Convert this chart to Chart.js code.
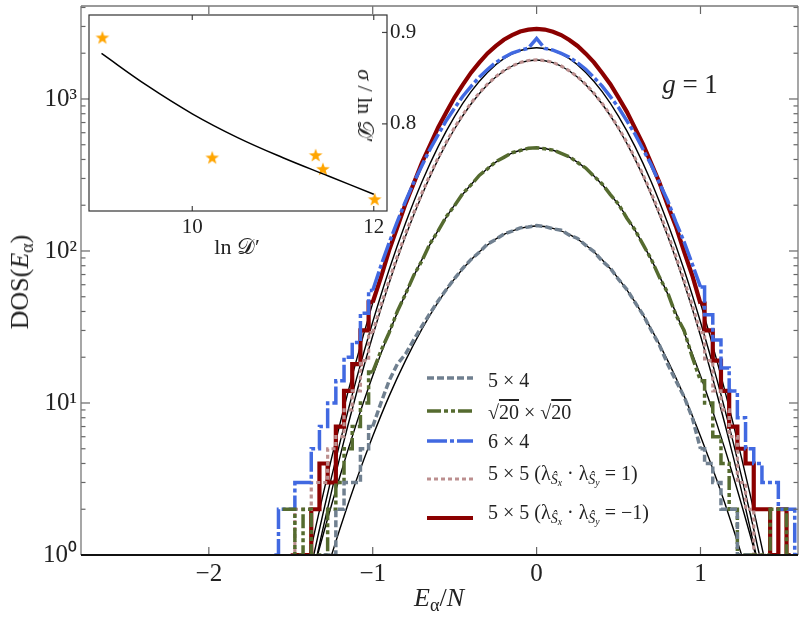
<!DOCTYPE html>
<html>
<head>
<meta charset="utf-8">
<script src="https://cdn.jsdelivr.net/npm/chart.js@4.4.1/dist/chart.umd.min.js"></script>
<style>
  body { margin:0; background:#fff; font-family:'Liberation Serif','Times New Roman',serif; color:#222; }
  #wrap { position:relative; width:806px; height:626px; overflow:hidden; }
  #main { position:absolute; left:0; top:0; }
  #inset { position:absolute; left:80px; top:6px; }
  .txt { position:absolute; white-space:nowrap; transform:translate(-50%,-50%); line-height:1; }
  .rot { transform:translate(-50%,-50%) rotate(-90deg); }
  .rotcw { transform:translate(-50%,-50%) rotate(90deg); }
  sub { font-size:70%; vertical-align:-0.28em; line-height:0; }
  .leg { position:absolute; left:427px; height:0; }
  .leg svg { position:absolute; left:0; top:-5px; }
  .leg .lt { position:absolute; left:61px; white-space:nowrap; font-size:20px; line-height:1; transform:translateY(-50%); }
  .ov { text-decoration:overline; }
</style>
</head>
<body>
<div id="wrap">
  <canvas id="main" width="806" height="626"></canvas>
  <canvas id="inset" width="340" height="255"></canvas>
  <div class="txt rot" style="left:20px;top:282px;font-size:26px;">DOS(<i>E</i><sub>α</sub>)</div>
  <div class="txt" style="left:439px;top:598px;font-size:26px;"><i>E</i><sub>α</sub>/<i>N</i></div>
  <div class="txt" style="left:690px;top:84px;font-size:27px;"><i>g</i> = 1</div>
  <div class="txt" style="left:237px;top:247px;font-size:22px;">ln 𝒟′</div>
  <div class="txt rotcw" style="left:365px;top:106px;font-size:22px;"><i>σ</i> / ln 𝒟′</div>
  <div id="legend"></div>
</div>
<script>
// bin centres of the DOS histograms (E_alpha / N)
const binE = [-1.6, -1.55, -1.5, -1.45, -1.4, -1.35, -1.3, -1.25, -1.2, -1.15, -1.1, -1.05, -1.0,
  -0.95, -0.9, -0.85, -0.8, -0.75, -0.7, -0.65, -0.6, -0.55, -0.5, -0.45, -0.4, -0.35, -0.3, -0.25,
  -0.2, -0.15, -0.1, -0.05, 0.0, 0.05, 0.1, 0.15, 0.2, 0.25, 0.3, 0.35, 0.4, 0.45, 0.5, 0.55, 0.6,
  0.65, 0.7, 0.75, 0.8, 0.85, 0.9, 0.95, 1.0, 1.05, 1.1, 1.15, 1.2, 1.25, 1.3, 1.35, 1.4, 1.45,
  1.5, 1.55, 1.6];

const dos5x4 = [null, null, null, null, null, null, 1, 1, 2, 3, 3, 5, 7,
  10, 14, 18, 21, 26, 32, 39, 47, 56, 66, 77, 88, 98, 111, 119,
  129, 135, 142, 144, 147, 145, 140, 137, 127, 121, 109, 99, 86, 77, 65, 56, 46,
  38, 30, 24, 18, 14, 11, 8, 5, 4, 3, 2, 2, 1, 1, null, null, null,
  null, null, null];

const dosSqrt20 = [null, 2, 2, 1, 2, 1, 1, 2, 3, 5, 7, 10, 16,
  22, 29, 40, 52, 69, 86, 112, 136, 169, 199, 239, 272, 314, 347, 386,
  413, 443, 458, 474, 478, 470, 461, 439, 417, 382, 351, 310, 276, 235, 203, 165, 138,
  110, 88, 67, 53, 38, 30, 20, 14, 10, 6, 4, 2, 1, 1, 1, 1, 2,
  2, 1, null];

const dos6x4 = [1, 2, 2, 3, 3, 5, 7, 10, 14, 20, 25, 39, 55,
  80, 113, 156, 212, 282, 364, 468, 584, 725, 872, 1043, 1210, 1393, 1562, 1735,
  1872, 2005, 2090, 2160, 2500, 2150, 2098, 1995, 1883, 1726, 1570, 1386, 1216, 1036, 878, 720, 589,
  465, 368, 279, 214, 155, 115, 82, 58, 38, 26, 17, 12, 8, 5, 4, 3, 3,
  2, 2, 1];

const dos5x5p = [null, null, 1, 2, 2, 3, 3, 5, 6, 9, 12, 19, 29,
  44, 64, 92, 130, 178, 240, 318, 412, 522, 650, 790, 940, 1095, 1252, 1400,
  1535, 1650, 1738, 1792, 1810, 1788, 1740, 1648, 1532, 1398, 1248, 1090, 935, 785, 645, 520, 410,
  316, 240, 178, 130, 92, 64, 44, 29, 19, 12, 9, 6, 3, 2, 1, 1, null,
  null, null, null];

const dos5x5m = [null, null, 1, 1, 1, 2, 4, 3, 7, 12, 18, 30, 46,
  67, 101, 143, 204, 278, 380, 498, 652, 820, 1026, 1243, 1490, 1734, 1995, 2226,
  2453, 2628, 2778, 2857, 2895, 2863, 2770, 2635, 2445, 2233, 1988, 1741, 1482, 1250, 1020, 826, 646,
  503, 376, 281, 200, 145, 99, 69, 45, 30, 19, 12, 7, 5, 4, 2, 2, 1,
  2, 1, null];

// Gaussian fits
const fitE = [-1.5, -1.4, -1.3, -1.2, -1.1, -1.0, -0.9, -0.8, -0.7, -0.6, -0.5, -0.4, -0.3, -0.2, -0.1,
  0.0, 0.1, 0.2, 0.3, 0.4, 0.5, 0.6, 0.7, 0.8, 0.9, 1.0, 1.1, 1.2, 1.3, 1.4, 1.5];
const fit5x4 = [0.11, 0.28, 0.67, 1.49, 3.10, 6.04, 11.1, 19.0, 30.6, 46.3, 65.8, 87.7, 109.6, 128.5, 141,
  146, 141, 128.5, 109.6, 87.7, 65.8, 46.3, 30.6, 19.0, 11.1, 6.04, 3.10, 1.49, 0.67, 0.28, 0.11];
const fitSqrt20 = [0.20, 0.55, 1.39, 3.30, 7.29, 15.1, 29.0, 52.2, 87.7, 137, 201, 274, 349, 415, 460,
  476, 460, 415, 349, 274, 201, 137, 87.7, 52.2, 29.0, 15.1, 7.29, 3.30, 1.39, 0.55, 0.20];
const fit6x4 = [0.19, 0.63, 1.94, 5.48, 14.3, 34.1, 75.2, 152, 284, 488, 769, 1117, 1496, 1841, 2084,
  2173, 2084, 1841, 1496, 1117, 769, 488, 284, 152, 75.2, 34.1, 14.3, 5.48, 1.94, 0.63, 0.19];
const fit5x5p = [0.15, 0.50, 1.55, 4.42, 11.5, 27.7, 61.4, 125, 233, 402, 637, 927, 1241, 1528, 1734,
  1807, 1734, 1528, 1241, 927, 637, 402, 233, 125, 61.4, 27.7, 11.5, 4.42, 1.55, 0.50, 0.15];
const fit5x5m = [0.25, 0.84, 2.58, 7.29, 19.0, 45.4, 100, 202, 378, 649, 1023, 1486, 1991, 2449, 2773,
  2891, 2773, 2449, 1991, 1486, 1023, 649, 378, 202, 100, 45.4, 19.0, 7.29, 2.58, 0.84, 0.25];

const xTicks = [-2, -1, 0, 1];
const yTicks = [1, 10, 100, 1000];
const yTickLabels = ['10⁰', '10¹', '10²', '10³'];

// inset: sigma / ln D' against ln D'
const lnD = [9.01, 10.22, 11.36, 11.44, 12.01];
const sigmaRatio = [0.8946, 0.7633, 0.7659, 0.7508, 0.7177];
const fitLnD = [9.0, 9.5, 10.0, 10.5, 11.0, 11.5, 12.0];
const fitSigma = [0.877, 0.842, 0.811, 0.785, 0.763, 0.743, 0.723];
const inXTicks = [10, 12];
const inYTicks = [0.8, 0.9];

const series = [
  { values: dos5x4,    color:'#708090', dash:[7,3],             width:3.5, label:'5 × 4' },
  { values: dosSqrt20, color:'#556B2F', dash:[14,3,4,3,4,3],    width:3.5, label:'√<span class="ov">20</span> × √<span class="ov">20</span>' },
  { values: dos6x4,    color:'#4169E1', dash:[20,3,4,3],        width:3.5, label:'6 × 4' },
  { values: dos5x5p,   color:'#BC8F8F', dash:[4,3],             width:3.2, label:'5 × 5 (λ<sub><i>Ŝ</i><sub><i>x</i></sub></sub> · λ<sub><i>Ŝ</i><sub><i>y</i></sub></sub> = 1)' },
  { values: dos5x5m,   color:'#8B0000', dash:[],                width:4.2, label:'5 × 5 (λ<sub><i>Ŝ</i><sub><i>x</i></sub></sub> · λ<sub><i>Ŝ</i><sub><i>y</i></sub></sub> = −1)' }
];
const fits = [fit5x4, fitSqrt20, fit6x4, fit5x5p, fit5x5m];

Chart.defaults.font.family = "'Liberation Serif','Times New Roman',serif";
Chart.defaults.color = '#222';

const toPts = (xs, ys) => xs.map((x, i) => ({ x, y: ys[i] }));

// the sparse tails are drawn as steps, the well-filled middle as a plain line
const pieces = [[0, 13, 'middle'], [12, 53, false], [52, 65, 'middle']];

// inward ticks and spines, like the matplotlib frame
const mainFrame = {
  id: 'mainFrame',
  afterDatasetsDraw(chart) {
    const { ctx, chartArea: a, scales: { x, y } } = chart;
    const line = (x1, y1, x2, y2) => { ctx.beginPath(); ctx.moveTo(x1, y1); ctx.lineTo(x2, y2); ctx.stroke(); };
    ctx.save();
    ctx.strokeStyle = '#666';
    ctx.lineWidth = 1.2;
    xTicks.forEach(v => {
      const px = x.getPixelForValue(v);
      line(px, a.bottom, px, a.bottom - 8);
      line(px, a.top, px, a.top + 8);
    });
    yTicks.forEach(d => {
      const py = y.getPixelForValue(d);
      line(a.left, py, a.left + 9, py);
      line(a.right, py, a.right - 9, py);
      for (let m = 2; m <= 9; m++) {
        if (d * m > y.max) break;
        const pm = y.getPixelForValue(d * m);
        line(a.left, pm, a.left + 4.5, pm);
        line(a.right, pm, a.right - 4.5, pm);
      }
    });
    ctx.strokeStyle = '#777';
    ctx.lineWidth = 1.3;
    line(a.left, a.top, a.left, a.bottom);
    line(a.left, a.top, a.right, a.top);
    line(a.right, a.top, a.right, a.bottom);
    ctx.strokeStyle = '#111';
    ctx.lineWidth = 1.8;
    line(a.left, a.bottom, a.right, a.bottom);
    ctx.restore();
  }
};

const noPad = s => { s.paddingTop = 0; s.paddingBottom = 0; s.paddingLeft = 0; s.paddingRight = 0; };

new Chart(document.getElementById('main'), {
  type: 'line',
  data: {
    datasets: [
      ...series.flatMap(s => pieces.map(([a, b, st]) => ({
        data: toPts(binE.slice(a, b), s.values.slice(a, b)),
        borderColor: s.color, borderWidth: s.width, borderDash: s.dash,
        stepped: st, tension: 0, pointRadius: 0, fill: false, spanGaps: false
      }))),
      ...fits.map(f => ({
        data: toPts(fitE, f),
        borderColor: '#000', borderWidth: 1.4, tension: 0.4,
        pointRadius: 0, fill: false
      }))
    ]
  },
  options: {
    responsive: false, animation: false,
    layout: { padding: { top: 6, right: 8, left: 0, bottom: 0 } },
    elements: { line: { capBezierPoints: false } },
    plugins: { legend: { display: false }, tooltip: { enabled: false } },
    scales: {
      x: {
        type: 'linear', min: -2.78, max: 1.595,
        grid: { display: false, drawTicks: false }, border: { display: false },
        afterBuildTicks: s => { s.ticks = xTicks.map(v => ({ value: v })); },
        afterFit: s => { s.height = 71; noPad(s); },
        ticks: { autoSkip: false, maxRotation: 0, padding: 4, font: { size: 25 }, color: '#222',
          callback: v => v < 0 ? '\u2212' + (-v) : String(v) }
      },
      y: {
        type: 'logarithmic', min: 1, max: 4090,
        grid: { display: false, drawTicks: false }, border: { display: false },
        afterBuildTicks: s => { s.ticks = yTicks.map(v => ({ value: v })); },
        afterFit: s => { s.width = 81; noPad(s); },
        ticks: { autoSkip: false, padding: 4, font: { size: 25 }, color: '#222',
          callback: v => yTickLabels[yTicks.indexOf(v)] }
      }
    }
  },
  plugins: [mainFrame]
});

// filled five-point star used as the point marker
const star = document.createElement('canvas');
star.width = 16; star.height = 16;
(() => {
  const c = star.getContext('2d');
  c.fillStyle = '#FFA500';
  c.beginPath();
  for (let i = 0; i < 10; i++) {
    const r = i % 2 ? 2.9 : 7.2;
    const t = -Math.PI / 2 + i * Math.PI / 5;
    c.lineTo(8 + r * Math.cos(t), 8.6 + r * Math.sin(t));
  }
  c.closePath();
  c.fill();
})();

const insetFrame = {
  id: 'insetFrame',
  beforeDraw(chart) {
    const { ctx, chartArea: a } = chart;
    ctx.save();
    ctx.fillStyle = '#fff';
    ctx.fillRect(a.left, a.top, a.right - a.left, a.bottom - a.top);
    ctx.restore();
  },
  afterDraw(chart) {
    const { ctx, chartArea: a, scales: { x, y } } = chart;
    const line = (x1, y1, x2, y2) => { ctx.beginPath(); ctx.moveTo(x1, y1); ctx.lineTo(x2, y2); ctx.stroke(); };
    ctx.save();
    ctx.strokeStyle = '#444';
    ctx.lineWidth = 1.2;
    inXTicks.forEach(v => {
      const px = x.getPixelForValue(v);
      line(px, a.bottom, px, a.bottom - 5);
      line(px, a.top, px, a.top + 5);
    });
    inYTicks.forEach(v => {
      const py = y.getPixelForValue(v);
      line(a.right, py, a.right - 5, py);
    });
    ctx.strokeStyle = '#333';
    ctx.strokeRect(a.left, a.top, a.right - a.left, a.bottom - a.top);
    ctx.restore();
  }
};

new Chart(document.getElementById('inset'), {
  type: 'line',
  data: {
    datasets: [
      { data: toPts(fitLnD, fitSigma), borderColor: '#000', borderWidth: 1.5, tension: 0.4, pointRadius: 0, fill: false },
      { data: toPts(lnD, sigmaRatio), showLine: false, pointStyle: star, pointRadius: 8 }
    ]
  },
  options: {
    responsive: false, animation: false,
    layout: { padding: { top: 6, left: 6, right: 0, bottom: 0 } },
    plugins: { legend: { display: false }, tooltip: { enabled: false } },
    scales: {
      x: {
        type: 'linear', min: 8.862, max: 12.146,
        grid: { display: false, drawTicks: false }, border: { display: false },
        afterBuildTicks: s => { s.ticks = inXTicks.map(v => ({ value: v })); },
        afterFit: s => { s.height = 50; noPad(s); },
        ticks: { autoSkip: false, maxRotation: 0, padding: 4, font: { size: 21 }, color: '#222' }
      },
      y: {
        type: 'linear', position: 'right', min: 0.7047, max: 0.9191,
        grid: { display: false, drawTicks: false }, border: { display: false },
        afterBuildTicks: s => { s.ticks = inYTicks.map(v => ({ value: v })); },
        afterFit: s => { s.width = 33; noPad(s); },
        ticks: { autoSkip: false, padding: 3, font: { size: 21 }, color: '#222',
          callback: v => v.toFixed(1) }
      }
    }
  },
  plugins: [insetFrame]
});

// legend drawn as html so the labels can carry sub- and superscripts
const handleY = [378, 411, 441, 479, 518];
const textY = [380, 412, 441, 473, 512];
document.getElementById('legend').innerHTML = series.map((s, i) => `
  <div class="leg" style="top:${handleY[i]}px">
    <svg width="46" height="10"><line x1="0" y1="5" x2="46" y2="5" stroke="${s.color}"
      stroke-width="${s.width}" stroke-dasharray="${s.dash.join(' ') || 'none'}"/></svg>
    <span class="lt" style="top:${textY[i] - handleY[i]}px">${s.label}</span>
  </div>`).join('');
</script>
</body>
</html>
